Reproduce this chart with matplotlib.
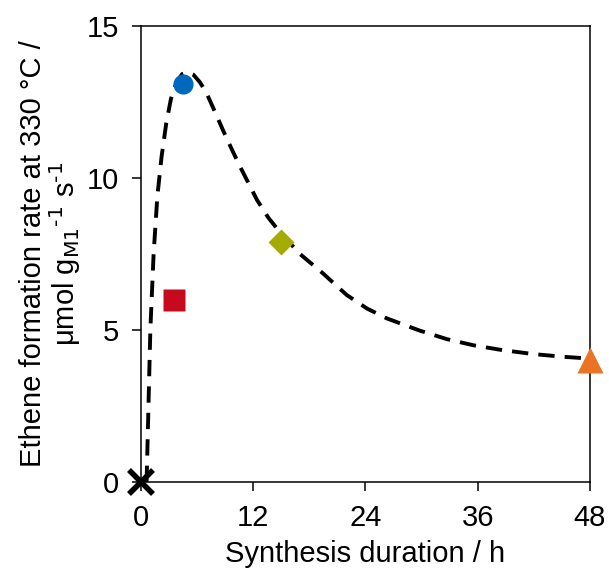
import matplotlib.pyplot as plt

plt.rcParams['font.family'] = ['Liberation Sans', 'DejaVu Sans']

# dashed guide curve
curve_x = [0.6, 0.8, 1.0, 1.35, 1.75, 2.2, 2.7, 3.2, 3.8, 4.4, 5.0, 5.6, 6.3, 7.0, 7.8,
           8.8, 9.7, 10.6, 12.4, 13.6, 14.9, 17.0, 19.5, 22.0, 24.2, 26.3, 29.8, 32.7,
           35.5, 38.4, 41.9, 45.1, 48.0]
curve_y = [0.0, 2.5, 5.0, 7.5, 9.4, 10.7, 11.8, 12.6, 13.15, 13.42, 13.48, 13.4, 13.15, 12.8, 12.25,
           11.55, 10.95, 10.37, 9.28, 8.7, 8.2, 7.5, 6.85, 6.15, 5.7, 5.38, 4.98, 4.7,
           4.5, 4.35, 4.21, 4.12, 4.06]

# measured points
pt_x = [0, 3.5, 4.5, 15, 48]
pt_y = [0, 6.0, 13.1, 7.9, 4.0]
pt_marker = ['x', 's', 'o', 'D', '^']
pt_color = ['black', '#C50A1E', '#0068BD', '#A5AC00', '#E97424']
pt_size = [17, 16, 14.5, 13, 19]

fig = plt.figure(figsize=(6.09, 5.73), dpi=100)
ax = fig.add_axes([0.2315, 0.1588, 0.7373, 0.7958])

ax.plot(curve_x, curve_y, color='black', lw=2.8, dashes=(4.2, 2.6), clip_on=False, zorder=2)

for x, y, m, c, s in zip(pt_x, pt_y, pt_marker, pt_color, pt_size):
    if m == 'x':
        ax.plot(x, y, marker=m, color=c, ms=s, mew=4, ls='none', clip_on=False, zorder=3)
    else:
        ax.plot(x, y, marker=m, color=c, ms=s, mec='none', ls='none', clip_on=False, zorder=3)

ax.set_xlim(0, 48)
ax.set_ylim(0, 15)
ax.set_xticks([0, 12, 24, 36, 48])
ax.set_yticks([0, 5, 10, 15])
ax.tick_params(direction='out', length=6.5, width=1.1, labelsize=21, pad=9)
for sp in ax.spines.values():
    sp.set_linewidth(1.1)

ax.set_xlabel('Synthesis duration / h', fontsize=21, labelpad=6)
ax.set_ylabel('Ethene formation rate at 330 °C /\n'
              'μmol g$_{\\mathrm{M1}}$$^{\\text{-1}}$ s$^{\\text{-1}}$',
              fontsize=21, labelpad=3, linespacing=1.0)

fig.savefig('out.png', dpi=100)
